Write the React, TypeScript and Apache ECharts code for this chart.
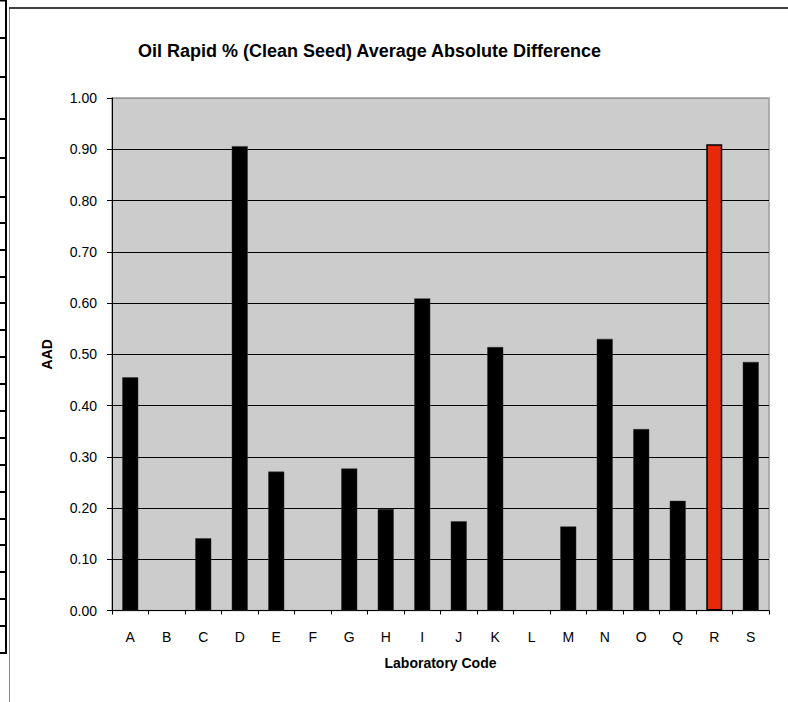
import React, { useEffect, useRef } from "react";
import * as echarts from "echarts";

const chartTitle = "Oil Rapid % (Clean Seed) Average Absolute Difference";
const xAxisTitle = "Laboratory Code";
const yAxisTitle = "AAD";
const categories = ["A", "B", "C", "D", "E", "F", "G", "H", "I", "J", "K", "L", "M", "N", "O", "Q", "R", "S"];
const aadValues: (number | null)[] = [0.455, null, 0.141, 0.906, 0.271, null, 0.277, 0.198, 0.609, 0.174, 0.514, null, 0.164, 0.53, 0.354, 0.214, 0.91, 0.485];
const highlightLab = "R";
const yMin = 0;
const yMax = 1;
const yStep = 0.1;

// decorative spreadsheet row borders on the far left of the screenshot
const rowBorderYs = [0.5, 38, 77, 119, 158, 197, 223, 250, 277, 303, 330, 357, 384, 411, 438, 465, 492, 519, 545, 572, 599, 626, 653];

export default function App() {
  const ref = useRef<HTMLDivElement>(null);
  useEffect(() => {
    if (!ref.current) return;
    const chart = echarts.init(ref.current, undefined, { renderer: "svg" });
    const font = "'Liberation Sans', Arial, sans-serif";
    const lineCount = Math.round((yMax - yMin) / yStep) + 1;
    const splitColors = Array.from({ length: lineCount }, (_, i) => (i === lineCount - 1 ? "#9a9a9a" : "#000"));
    const graphics: any[] = [
      { type: "line", shape: { x1: 6, y1: 0, x2: 6, y2: 653 }, style: { stroke: "#000", lineWidth: 2 } },
      { type: "line", shape: { x1: 9.5, y1: 8, x2: 9.5, y2: 702 }, style: { stroke: "#888", lineWidth: 1 } },
      { type: "line", shape: { x1: 9, y1: 8, x2: 788, y2: 8 }, style: { stroke: "#000", lineWidth: 1.5 } },
      ...rowBorderYs.map((y) => ({
        type: "line",
        shape: { x1: 0, y1: y, x2: 7, y2: y },
        style: { stroke: "#000", lineWidth: 2 },
      })),
    ];
    chart.setOption({
      animation: false,
      backgroundColor: "#fff",
      textStyle: { fontFamily: font },
      title: {
        text: chartTitle,
        left: 133,
        top: 37,
        textStyle: { fontFamily: font, fontSize: 18, fontWeight: "bold", color: "#000" },
      },
      graphic: graphics,
      grid: {
        left: 112,
        top: 98,
        right: 19,
        bottom: 91.5,
        show: true,
        backgroundColor: "#cccccc",
        borderColor: "#9a9a9a",
        borderWidth: 1.5,
      },
      xAxis: {
        type: "category",
        data: categories,
        name: xAxisTitle,
        nameLocation: "middle",
        nameGap: 45,
        nameTextStyle: { fontFamily: font, fontSize: 14, fontWeight: "bold", color: "#000" },
        axisLine: { show: true, lineStyle: { color: "#000", width: 1 } },
        axisTick: { show: true, length: 4, lineStyle: { color: "#000" } },
        axisLabel: { fontFamily: font, fontSize: 14, color: "#000", margin: 19 },
        splitLine: { show: false },
      },
      yAxis: {
        type: "value",
        min: yMin,
        max: yMax,
        interval: yStep,
        name: yAxisTitle,
        nameLocation: "middle",
        nameGap: 58,
        nameRotate: 90,
        nameTextStyle: { fontFamily: font, fontSize: 14, fontWeight: "bold", color: "#000" },
        axisLine: { show: true, lineStyle: { color: "#000", width: 1 } },
        axisTick: { show: true, length: 5, lineStyle: { color: "#000" } },
        axisLabel: {
          fontFamily: font,
          fontSize: 14,
          color: "#000",
          margin: 15,
          formatter: (v: number) => v.toFixed(2),
        },
        splitLine: { show: true, lineStyle: { color: splitColors, width: 1 } },
      },
      series: [
        {
          type: "bar",
          barWidth: 16,
          data: aadValues.map((v, i) =>
            categories[i] === highlightLab
              ? { value: v, itemStyle: { color: "#e6290b", borderColor: "#000", borderWidth: 1.5 } }
              : { value: v, itemStyle: { color: "#000", borderColor: "#333", borderWidth: 0.5 } }
          ),
        },
      ],
    });
    return () => chart.dispose();
  }, []);
  return <div ref={ref} style={{ position: "absolute", left: 0, top: 0, width: 788, height: 702 }} />;
}
